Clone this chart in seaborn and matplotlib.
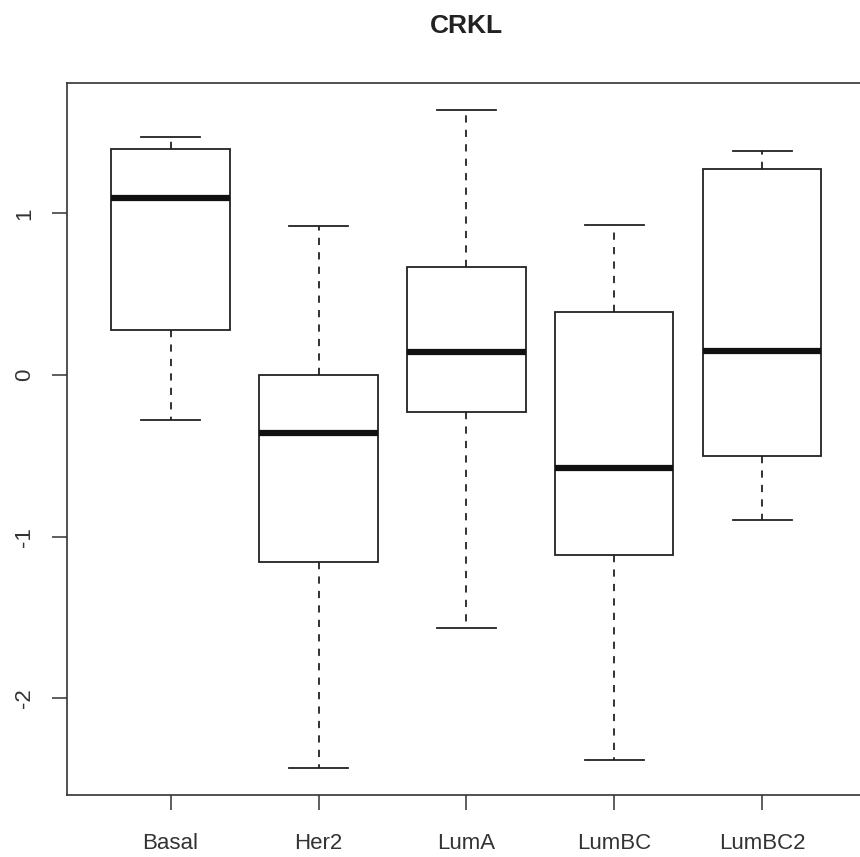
import pandas as pd
import matplotlib.pyplot as plt
import seaborn as sns

# five-number summaries (min, q1, median, q3, max)
subtypes = ["Basal", "Her2", "LumA", "LumBC", "LumBC2"]
basal = [-0.28, 0.28, 1.095, 1.40, 1.47]
her2 = [-2.43, -1.157, -0.36, 0.0, 0.92]
luma = [-1.565, -0.229, 0.142, 0.668, 1.64]
lumbc = [-2.38, -1.113, -0.575, 0.39, 0.928]
lumbc2 = [-0.897, -0.50, 0.148, 1.274, 1.385]

rows = []
for name, vals in zip(subtypes, [basal, her2, luma, lumbc, lumbc2]):
    for v in vals:
        rows.append({"subtype": name, "value": v})
df = pd.DataFrame(rows)

plt.rcParams['font.family'] = ['Liberation Sans', 'DejaVu Sans']
fig = plt.figure(figsize=(8.6, 8.57), dpi=100)
# right edge of the frame runs off the image, as in the original
ax = fig.add_axes([0.078, 0.0723, 0.9287, 0.8308])

sns.boxplot(data=df, x="subtype", y="value", order=subtypes, whis=(0, 100),
            width=0.8, color="white", linecolor="#222222", linewidth=1.3,
            medianprops=dict(color="#111111", linewidth=4.5),
            whiskerprops=dict(linestyle=(0, (4, 4))),
            capprops=dict(linestyle="-"), ax=ax)

# caps half the box width, like R
for line in ax.lines:
    xd = line.get_xdata()
    yd = line.get_ydata()
    if len(xd) == 2 and yd[0] == yd[1] and abs(xd[1] - xd[0]) < 0.7:
        c = (xd[0] + xd[1]) / 2
        line.set_xdata([c - 0.2, c + 0.2])

ax.set_xlim(-0.7, 4.7)
ax.set_ylim(-2.597, 1.806)
ax.set_yticks([-2, -1, 0, 1])
ax.set_yticklabels(["-2", "-1", "0", "1"], rotation=90, va="center")
ax.tick_params(axis="both", length=11, width=1.1, labelsize=16, color="#333333", labelcolor="#333333")
ax.tick_params(axis="y", pad=12)
ax.tick_params(axis="x", pad=16)
ax.set_xlabel("")
ax.set_ylabel("")
for s in ax.spines.values():
    s.set_linewidth(1.2)
    s.set_color("#333333")
ax.set_title("CRKL", fontsize=19, fontweight="bold", pad=36, color="#222222")

fig.savefig("out.png", dpi=100)
